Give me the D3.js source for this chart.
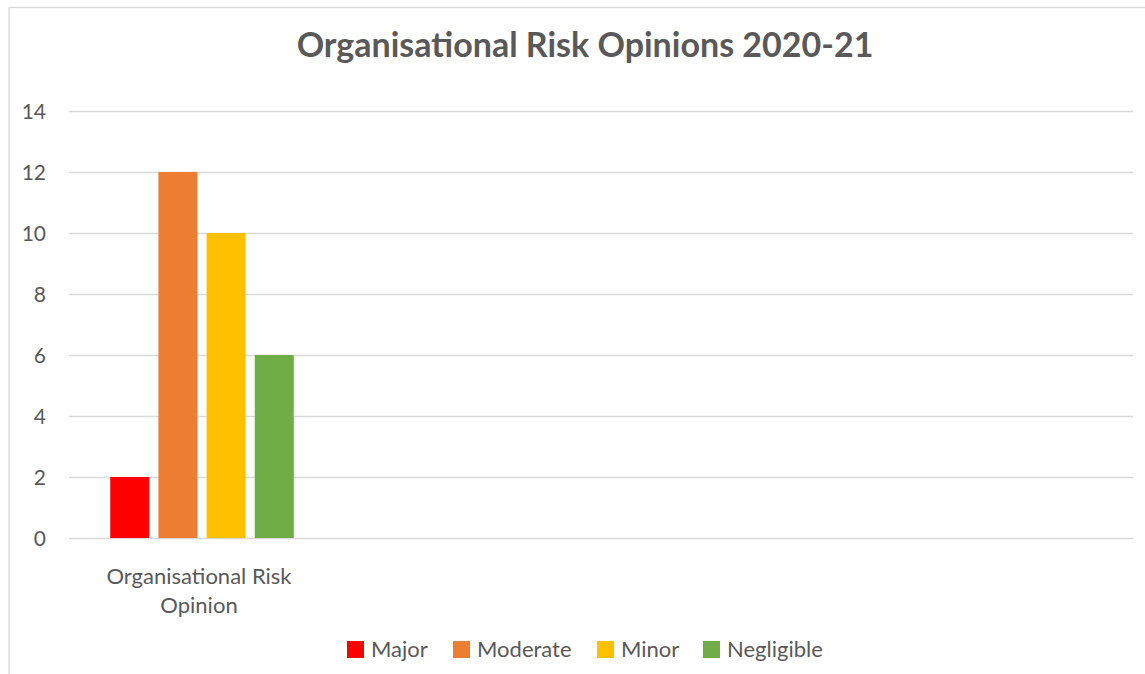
<!DOCTYPE html>
<html>
<head>
<meta charset="utf-8">
<script src="https://cdn.jsdelivr.net/npm/d3@7"></script>
<style>
  body { margin: 0; background: #fff; }
  svg { display: block; font-family: Lato, "Open Sans", sans-serif; }
</style>
</head>
<body>
<div id="chart"></div>
<script>
// chart data
const categories = ['Organisational Risk Opinion', 'c2', 'c3', 'c4'];
const categoryLabels = [['Organisational Risk', 'Opinion'], [], [], []];
const seriesNames = ['Major', 'Moderate', 'Minor', 'Negligible'];
const seriesColors = ['#ff0000', '#ed7d31', '#ffc000', '#70ad47'];
const major = [2, null, null, null];
const moderate = [12, null, null, null];
const minor = [10, null, null, null];
const negligible = [6, null, null, null];
const yTicks = [0, 2, 4, 6, 8, 10, 12, 14];

const seriesValues = [major, moderate, minor, negligible];

const width = 1145, height = 674;
const textColor = '#595959';

const svg = d3.select('#chart').append('svg')
  .attr('width', width)
  .attr('height', height);

// chart border
svg.append('rect')
  .attr('x', 9).attr('y', 7.5)
  .attr('width', 1160).attr('height', 700)
  .attr('fill', '#fff')
  .attr('stroke', '#d9d9d9')
  .attr('stroke-width', 1.3);

const plot = { left: 69, right: 1133, top: 111, bottom: 538 };

const x0 = d3.scaleBand()
  .domain(categories)
  .range([plot.left, plot.right])
  .paddingInner(0.31)
  .paddingOuter(0.155);

const x1 = d3.scaleBand()
  .domain(seriesNames)
  .range([0, x0.bandwidth()])
  .paddingInner(0.19);

const y = d3.scaleLinear()
  .domain([0, 14])
  .range([plot.bottom, plot.top]);

// title
svg.append('text')
  .attr('x', 585).attr('y', 57)
  .attr('text-anchor', 'middle')
  .attr('font-size', 34)
  .attr('font-weight', 'bold')
  .attr('fill', textColor)
  .text('Organisational Risk Opinions 2020-21');

// gridlines
const yAxis = d3.axisLeft(y)
  .tickValues(yTicks)
  .tickSize(-(plot.right - plot.left))
  .tickPadding(23);

const yg = svg.append('g')
  .attr('transform', `translate(${plot.left},0)`)
  .call(yAxis);
yg.select('.domain').remove();
yg.selectAll('.tick line')
  .attr('stroke', '#d9d9d9')
  .attr('stroke-width', 1.5);
yg.selectAll('.tick text')
  .attr('font-family', 'Lato, "Open Sans", sans-serif')
  .attr('font-size', 21)
  .attr('fill', textColor)
  .attr('dy', '0.36em');

// bars
const groups = svg.append('g')
  .selectAll('g')
  .data(categories)
  .join('g')
  .attr('transform', d => `translate(${x0(d)},0)`);

groups.selectAll('rect')
  .data((d, i) => seriesNames.map((s, j) => ({ series: s, value: seriesValues[j][i], color: seriesColors[j] })))
  .join('rect')
  .filter(d => d.value != null)
  .attr('x', d => x1(d.series))
  .attr('y', d => y(d.value))
  .attr('width', x1.bandwidth())
  .attr('height', d => y(0) - y(d.value))
  .attr('fill', d => d.color);

// category labels
categories.forEach((c, i) => {
  const t = svg.append('text')
    .attr('text-anchor', 'middle')
    .attr('font-size', 22)
    .attr('fill', textColor);
  categoryLabels[i].forEach((line, k) => {
    t.append('tspan')
      .attr('x', x0(c) + x0.bandwidth() / 2 - 3)
      .attr('y', 584 + k * 29)
      .text(line);
  });
});

// legend
const legendX = [347, 453, 597, 703];
const legend = svg.append('g')
  .selectAll('g')
  .data(seriesNames)
  .join('g')
  .attr('transform', (d, i) => `translate(${legendX[i]},641)`);

legend.append('rect')
  .attr('width', 17).attr('height', 17)
  .attr('fill', (d, i) => seriesColors[i]);

legend.append('text')
  .attr('x', 24).attr('y', 16)
  .attr('font-size', 22)
  .attr('fill', textColor)
  .text(d => d);
</script>
</body>
</html>
